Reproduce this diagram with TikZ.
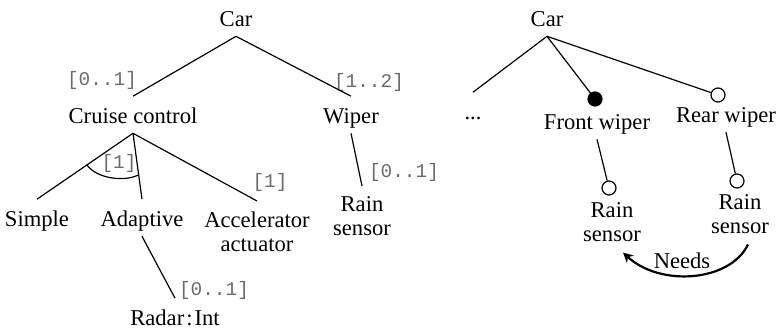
\documentclass[tikz,border=0pt]{standalone}
\usepackage{fontspec}
\setmainfont{Liberation Serif}
\newfontfamily\monofont{Liberation Mono}
\usetikzlibrary{arrows.meta,calc}
\begin{document}
\begin{tikzpicture}[x=0.5pt,y=-0.5pt,
  lbl/.style={font=\fontsize{11.3}{12.25}\selectfont, text height=13.2pt, text depth=4.95pt, inner ysep=0pt, inner xsep=1pt, anchor=base},
  lbl2/.style={font=\fontsize{11.3}{12.25}\selectfont, align=center, inner ysep=5pt, inner xsep=1pt, anchor=north},
  card/.style={font=\fontsize{9.7}{11}\monofont, text=black!58, inner sep=0pt},
  edge/.style={line width=0.6pt},
  feat/.style={circle, draw, line width=0.6pt, minimum size=7pt, inner sep=0pt},
  needs/.style={line width=1.1pt, -{Stealth[length=5pt,width=5pt]}}
]
\useasboundingbox (0,0) rectangle (776,327);
% left tree
\node[lbl] (car1) at (236,26) {Car};
\node[lbl] (cc) at (133,123) {Cruise control};
\node[lbl] (wiper) at (351,123) {Wiper};
\node[lbl] (simple) at (37,226) {Simple};
\node[lbl] (adapt) at (142,226) {Adaptive};
\node[lbl2] (accel) at (257,201) {Accelerator\\actuator};
\node[lbl] (radar) at (175,325) {Radar\kern1pt:\kern1pt Int};
\node[lbl2] (rainL) at (362,186) {Rain\\sensor};
\node[card] (m1) at (102,80) {[0..1]};
\node[card] (m2) at (369,82) {[1..2]};
\node[card] (m3) at (119,163) {[1]};
\node[card] (m4) at (270,182) {[1]};
\node[card] (m5) at (404,172) {[0..1]};
\node[card] (m6) at (214,290) {[0..1]};
\draw[edge] (car1.south) -- (cc.north);
\draw[edge] (car1.south) -- (wiper.north);
\draw[edge] (cc.south) -- (simple.north);
\draw[edge] (cc.south) -- (adapt.north);
\draw[edge] (cc.south) -- (accel.north);
\draw[edge] (adapt.south) -- (radar.north);
\draw[edge] (wiper.south) -- (rainL.north);
\draw[edge] ($(cc.south)!0.48!(simple.north)$) .. controls (97,179) and (125,182) .. ($(cc.south)!0.63!(adapt.north)$);
% right tree
\node[lbl] (car2) at (547,26) {Car};
\node[lbl] (dots) at (473,119) {...};
\node[feat, fill=black] (fc) at (595,99) {};
\node[feat, fill=white] (rc) at (718,95) {};
\node[lbl] (fw) at (597,129) {Front wiper};
\node[lbl] (rw) at (726,122) {Rear wiper};
\node[feat, fill=white] (fc2) at (609,188) {};
\node[feat, fill=white] (rc2) at (737,181) {};
\node[lbl2] (rainF) at (612,192) {Rain\\sensor};
\node[lbl2] (rainR) at (740,184) {Rain\\sensor};
\node[lbl] (needs) at (682,268) {Needs};
\draw[edge] (car2.south) -- (dots.north);
\draw[edge] (car2.south) -- (fc);
\draw[edge] (car2.south) -- (rc);
\draw[edge] (fw.south) -- (fc2);
\draw[edge] (rw.south) -- (rc2);
\draw[needs] ([xshift=4pt]rainR.south) .. controls (730,282) and (660,287) .. ([xshift=5.5pt]rainF.south);
\end{tikzpicture}
\end{document}
